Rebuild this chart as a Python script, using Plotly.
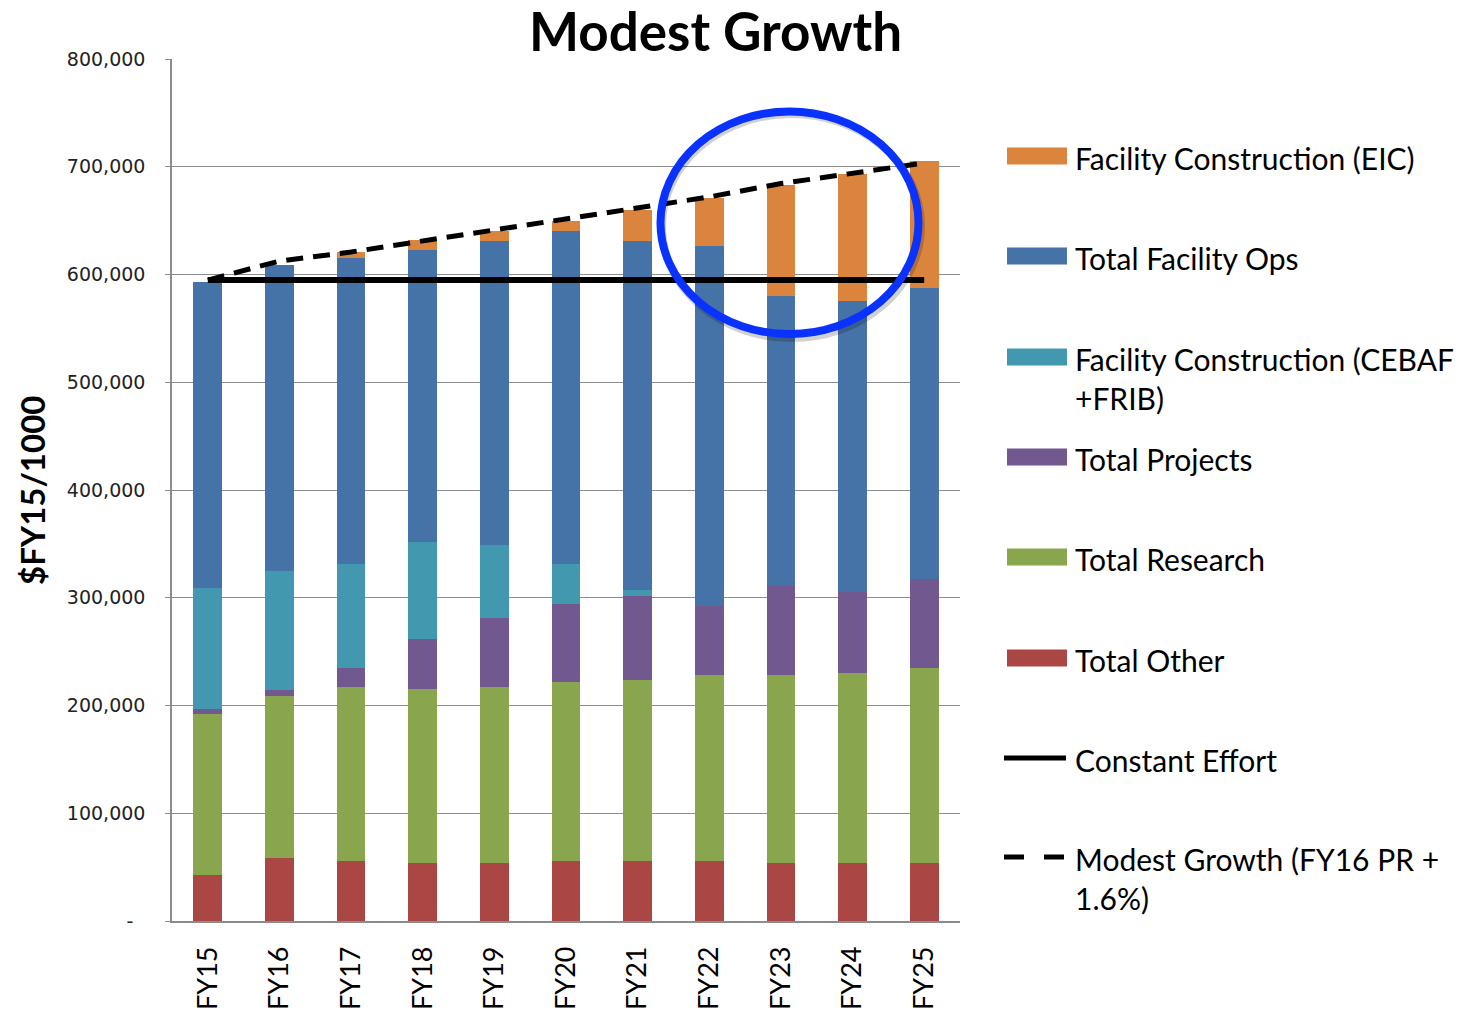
import plotly.graph_objects as go

# Fiscal years on the category axis
years = ["FY15", "FY16", "FY17", "FY18", "FY19", "FY20",
         "FY21", "FY22", "FY23", "FY24", "FY25"]

# Stacked budget components ($FY15 / 1000), bottom to top
total_other = [43100, 58900, 56100, 53900, 53900, 56100, 56100, 56100, 53900, 53900, 53900]
total_research = [149200, 149500, 160900, 161200, 163100, 165300, 167800, 172000, 174200, 176400, 181100]
total_projects = [4600, 6200, 17400, 46200, 64100, 73000, 77300, 64500, 83000, 75500, 82600]
constr_cebaf_frib = [112000, 110100, 97200, 90300, 67500, 37200, 5600, 0, 0, 0, 0]
total_facility_ops = [284600, 284500, 284100, 270900, 282500, 308800, 324300, 334200, 269300, 269600, 269600]
constr_eic = [0, 0, 4900, 9200, 9300, 9000, 29200, 44600, 102700, 118300, 118200]

# Reference budget envelopes
constant_effort = [594800] * 11
modest_growth = [594800, 612500, 620900, 631100, 641000, 651900, 661200, 672000, 684400, 694200, 703500]

# Axis ticks
y_tickvals = [0, 100000, 200000, 300000, 400000, 500000, 600000, 700000, 800000]
y_ticktext = ["-\u00a0\u00a0", "100,000", "200,000", "300,000", "400,000",
              "500,000", "600,000", "700,000", "800,000"]

bar_series = [
    ("Total Other", total_other, "#AA4643"),
    ("Total Research", total_research, "#89A54E"),
    ("Total Projects", total_projects, "#71588F"),
    ("Facility Construction (CEBAF +FRIB)", constr_cebaf_frib, "#4198AF"),
    ("Total Facility Ops", total_facility_ops, "#4572A7"),
    ("Facility Construction (EIC)", constr_eic, "#DB843D"),
]

W, H = 1463, 1012
ML, MR, MT, MB = 172, 503, 59, 91
PW, PH = W - ML - MR, H - MT - MB


def px_x(px):
    return (px - ML) / PW


def px_y(py):
    return (H - MB - py) / PH


fig = go.Figure()

for name, vals, color in bar_series:
    fig.add_trace(go.Bar(
        x=years, y=vals, name=name,
        marker=dict(color=color, line=dict(width=0)),
        showlegend=False,
    ))

fig.add_trace(go.Scatter(
    x=years, y=constant_effort, mode="lines", name="Constant Effort",
    line=dict(color="black", width=6), showlegend=False,
))
fig.add_trace(go.Scatter(
    x=years, y=modest_growth, mode="lines", name="Modest Growth (FY16 PR + 1.6%)",
    line=dict(color="black", width=5, dash="17px,10px"), showlegend=False,
))

grid_col = "#8C8C8C"
fig.update_layout(
    width=W, height=H,
    margin=dict(l=ML, r=MR, t=MT, b=MB, pad=0, autoexpand=False),
    paper_bgcolor="white", plot_bgcolor="white",
    barmode="stack", bargap=0.6,
    xaxis=dict(
        type="category", range=[-0.5, 10.5], automargin=False,
        showline=True, linecolor=grid_col, linewidth=1.5,
        showgrid=False, ticks="", tickangle=-90,
        tickfont=dict(family="Lato", size=27, color="black"),
        ticklabelstandoff=13,
    ),
    yaxis=dict(
        range=[0, 800000], tickvals=y_tickvals, ticktext=y_ticktext,
        automargin=False,
        showgrid=True, gridcolor=grid_col, gridwidth=1.3,
        showline=True, linecolor=grid_col, linewidth=1.5,
        zeroline=False, ticks="outside", ticklen=5, tickcolor=grid_col,
        tickfont=dict(family="DejaVu Sans", size=19, color="#222222"),
        ticklabelstandoff=16,
    ),
    font=dict(family="Lato", color="black"),
)

annotations = []
shapes = []

# Title and y-axis title
annotations.append(dict(
    text="<b>Modest Growth</b>", x=px_x(715), y=px_y(30), xref="paper", yref="paper",
    xanchor="center", yanchor="middle", showarrow=False,
    font=dict(family="Lato", size=53, color="black"),
))
annotations.append(dict(
    text="<b>$FY15/1000</b>", x=px_x(32), y=px_y(491), xref="paper", yref="paper",
    xanchor="center", yanchor="middle", showarrow=False, textangle=-90,
    font=dict(family="Lato", size=33, color="black"),
))

# Legend, drawn at the right of the plot area
legend_items = [
    ("rect", "#DB843D", ["Facility Construction (EIC)"]),
    ("rect", "#4572A7", ["Total Facility Ops"]),
    ("rect", "#4198AF", ["Facility Construction (CEBAF", "+FRIB)"]),
    ("rect", "#71588F", ["Total Projects"]),
    ("rect", "#89A54E", ["Total Research"]),
    ("rect", "#AA4643", ["Total Other"]),
    ("solid", "black", ["Constant Effort"]),
    ("dash", "black", ["Modest Growth (FY16 PR +", "1.6%)"]),
]
item_centers = [156, 256, 357, 457, 557, 658, 758, 857]
line_gap = 39
for (kind, color, lines), cy in zip(legend_items, item_centers):
    if kind == "rect":
        shapes.append(dict(
            type="rect", xref="paper", yref="paper",
            x0=px_x(1007), x1=px_x(1067), y0=px_y(cy - 8.5), y1=px_y(cy + 8.5),
            fillcolor=color, line=dict(width=0), layer="above",
        ))
    else:
        shapes.append(dict(
            type="line", xref="paper", yref="paper",
            x0=px_x(1004), x1=px_x(1066) if kind == "solid" else px_x(1064),
            y0=px_y(cy), y1=px_y(cy),
            line=dict(color=color, width=5, dash="solid" if kind == "solid" else "20px,20px"),
            layer="above",
        ))
    for i, ln in enumerate(lines):
        annotations.append(dict(
            text=ln, x=px_x(1073), y=px_y(cy + 2 + i * line_gap),
            xref="paper", yref="paper", xanchor="left", yanchor="middle",
            showarrow=False, font=dict(family="Lato", size=30, color="black"),
        ))

# Highlight ring around the EIC build-up years
shapes.append(dict(
    type="circle", xref="paper", yref="paper",
    x0=px_x(662), x1=px_x(921), y0=px_y(338), y1=px_y(114),
    line=dict(color="rgba(0,0,0,0.18)", width=8), layer="above",
))
shapes.append(dict(
    type="circle", xref="paper", yref="paper",
    x0=px_x(660.5), x1=px_x(918.5), y0=px_y(334), y1=px_y(111.5),
    line=dict(color="#0A32FF", width=8), layer="above",
))

fig.update_layout(annotations=annotations, shapes=shapes)

fig.write_html("out.html")
